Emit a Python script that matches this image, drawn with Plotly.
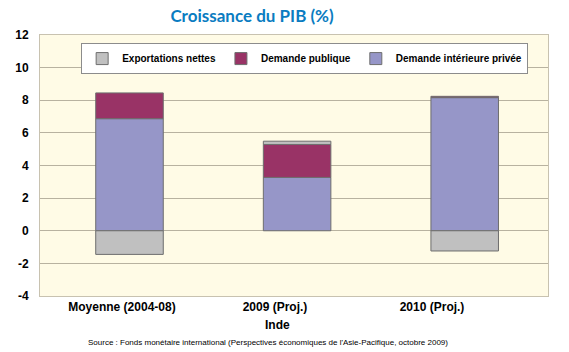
import plotly.graph_objects as go

categories = ["Moyenne (2004-08)", "2009 (Proj.)", "2010 (Proj.)"]
prive = [6.87, 3.27, 8.16]
publique = [1.58, 2.02, 0.08]
exportations = [-1.45, 0.2, -1.24]
y_ticks = [-4, -2, 0, 2, 4, 6, 8, 10, 12]

xpos = [0, 1, 2]
label_pos = [-0.045, 0.868, 1.805]

line = dict(color="#6E6E6E", width=1)
fig = go.Figure()
fig.add_trace(go.Bar(x=xpos, y=prive, name="<b>Demande intérieure privée</b>",
                     marker=dict(color="#9696C8", line=line), width=0.403))
fig.add_trace(go.Bar(x=xpos, y=publique, name="<b>Demande publique</b>",
                     marker=dict(color="#993366", line=line), width=0.403))
fig.add_trace(go.Bar(x=xpos, y=exportations, name="<b>Exportations nettes</b>",
                     marker=dict(color="#C0C0C0", line=line), width=0.403))

fig.update_layout(
    width=569, height=352,
    margin=dict(l=40, r=21, t=35, b=56),
    barmode="relative",
    paper_bgcolor="white",
    plot_bgcolor="#FFFBE6",
    font=dict(family="Arial, Liberation Sans", color="black"),
    title=dict(text="<b>Croissance du PIB (%)</b>", x=0.443, xanchor="center",
               y=0.955, yanchor="middle",
               font=dict(family="Lato", size=17, color="#0A7CC1")),
    legend=dict(orientation="h", traceorder="reversed",
                x=0.081, xanchor="left", y=0.969, yanchor="top",
                bgcolor="white", bordercolor="#8C8C8C", borderwidth=1,
                font=dict(size=10, family="Arial, Liberation Sans", color="black"),
                itemwidth=30),
    xaxis=dict(range=[-0.534, 2.497], tickmode="array", tickvals=label_pos,
               ticktext=["<b>%s</b>" % c for c in categories],
               tickfont=dict(size=12), showgrid=False, zeroline=False,
               showline=True, linecolor="#C8C2B0", mirror=True, ticks=""),
    yaxis=dict(range=[-4, 12], tickmode="array", tickvals=y_ticks,
               ticktext=["<b>%d</b>" % v for v in y_ticks],
               tickfont=dict(size=12), showgrid=True, gridcolor="#B8B2A0",
               gridwidth=1, zeroline=False, showline=True, linecolor="#C8C2B0",
               mirror=True, ticks="", ticklabelstandoff=8),
    annotations=[
        dict(text="<b>Inde</b>", xref="paper", yref="paper", x=0.468, y=-0.11,
             xanchor="center", yanchor="middle", showarrow=False,
             font=dict(size=12)),
        dict(text="Source : Fonds monétaire international (Perspectives économiques de l'Asie-Pacifique, octobre 2009)",
             xref="paper", yref="paper", x=0.448, y=-0.18,
             xanchor="center", yanchor="middle", showarrow=False,
             font=dict(size=8)),
    ],
)

fig.write_html("out.html")
